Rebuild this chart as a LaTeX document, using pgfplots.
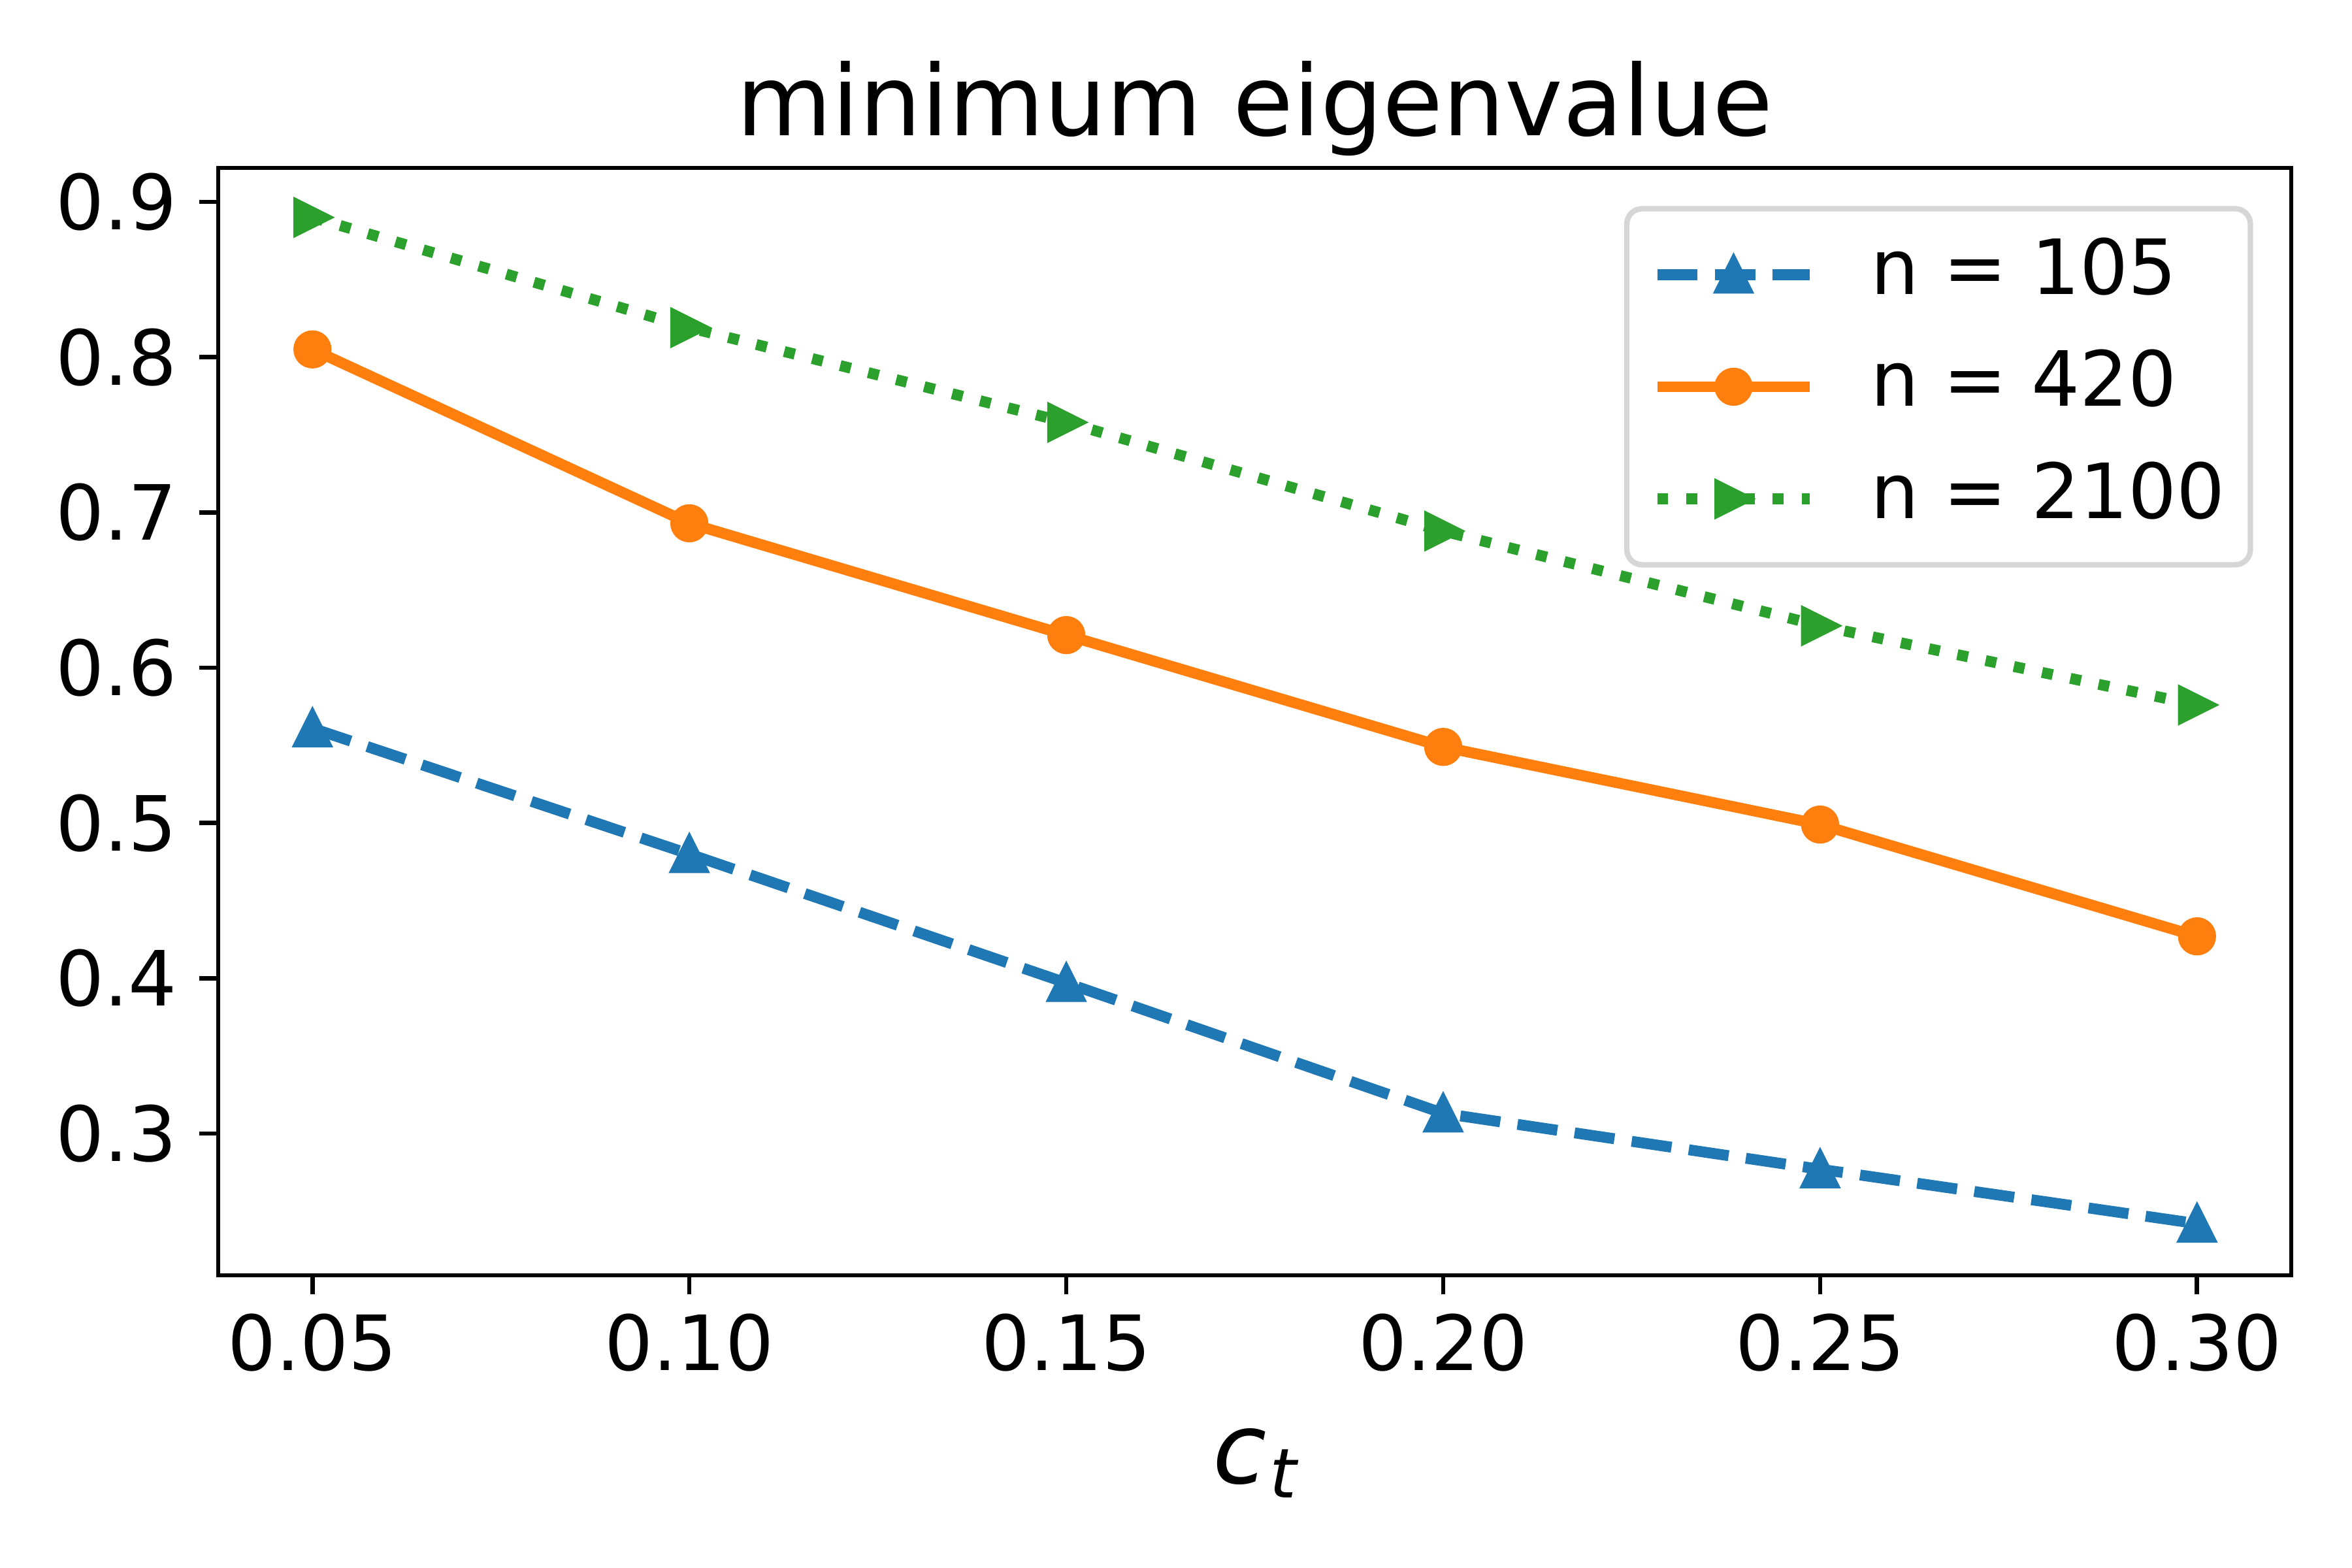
\documentclass[border=0pt]{standalone}
\usepackage{fontspec}
\setmainfont{DejaVu Sans}
\usepackage{pgfplots}
\pgfplotsset{compat=1.18}
\definecolor{c0}{HTML}{1F77B4}
\definecolor{c1}{HTML}{FF7F0E}
\definecolor{c2}{HTML}{2CA02C}
\definecolor{legframe}{rgb}{0.84,0.84,0.84}
\begin{document}
\begin{tikzpicture}
\begin{axis}[
  at={(0,0)}, anchor=south west,
  scale only axis,
  width=380.76bp, height=203.4bp,
  xmin=0.0375, xmax=0.3125,
  ymin=0.2087, ymax=0.9219,
  axis line style={line width=0.8bp, black},
  tick align=outside,
  major tick length=3.5bp,
  tick style={line width=0.8bp, black},
  xtick pos=bottom, ytick pos=left,
  xtick={0.05,0.1,0.15,0.2,0.25,0.3},
  xticklabels={0.05,0.10,0.15,0.20,0.25,0.30},
  ytick={0.3,0.4,0.5,0.6,0.7,0.8,0.9},
  yticklabels={0.3,0.4,0.5,0.6,0.7,0.8,0.9},
  xticklabel style={font=\fontsize{14bp}{16bp}\selectfont, anchor=base, inner sep=0pt, yshift=-14bp},
  yticklabel style={font=\fontsize{14bp}{16bp}\selectfont, anchor=east, inner sep=0pt, xshift=-3.9bp},
  title={minimum eigenvalue},
  title style={at={(0.5,1)}, anchor=base, inner sep=0pt, yshift=0bp, font=\fontsize{18bp}{20bp}\selectfont},
  xlabel={\itshape c\kern0.6bp\raisebox{-2.65bp}{\fontsize{12.6bp}{14bp}\selectfont t}},
  xlabel style={at={(0.5,0)}, anchor=base, inner sep=0pt, yshift=-38.24bp, font=\fontsize{18bp}{20bp}\selectfont},
  legend cell align=left,
  legend style={at={(1,1)}, anchor=north east, xshift=-7bp, yshift=-7bp,
    draw=legframe, line width=1bp, rounded corners=2.8bp, fill=white,
    inner xsep=4.6bp, inner ysep=5.3bp, row sep=7bp, column sep=10.2bp,
    font=\fontsize{14bp}{16bp}\selectfont,
    nodes={inner sep=0pt, text height=10.4bp, text depth=3.2bp}},
  legend image code/.code={\draw[mark repeat=2,mark phase=2,#1] plot coordinates {(0bp,0bp) (14bp,0bp) (28bp,0bp)};},
]
\addplot[c0, line width=2bp, dash pattern=on 7.4bp off 3.2bp, mark=triangle*, mark size=4bp,
  mark options={solid, sharp corners, line width=1bp, xscale=0.866, yshift=-1bp}]
  coordinates {(0.05,0.561) (0.10,0.480) (0.15,0.397) (0.20,0.313) (0.25,0.277) (0.30,0.242)};
\addlegendentry{n = 105}
\addplot[c1, line width=2bp, mark=*, mark size=3bp,
  mark options={solid, sharp corners, line width=1bp}]
  coordinates {(0.05,0.805) (0.10,0.693) (0.15,0.621) (0.20,0.549) (0.25,0.499) (0.30,0.427)};
\addlegendentry{n = 420}
\addplot[c2, line width=2bp, dash pattern=on 2bp off 3.3bp, mark=triangle*, mark size=4bp,
  mark options={solid, sharp corners, line width=1bp, rotate=-90, xscale=0.866, yshift=-1bp}]
  coordinates {(0.05,0.890) (0.10,0.819) (0.15,0.758) (0.20,0.688) (0.25,0.627) (0.30,0.576)};
\addlegendentry{n = 2100}
\end{axis}
\pgfresetboundingbox
\useasboundingbox (-40.08bp,-53.76bp) rectangle (391.92bp,234.24bp);
\end{tikzpicture}
\end{document}
